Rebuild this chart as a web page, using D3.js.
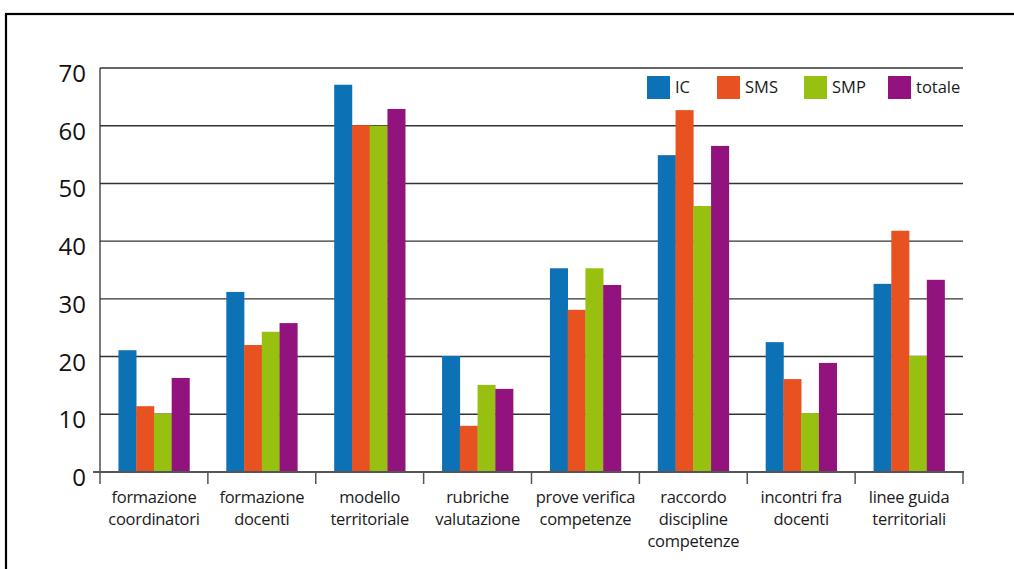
<!DOCTYPE html>
<html><head><meta charset="utf-8">
<script src="https://cdn.jsdelivr.net/npm/d3@7"></script>
<style>body{margin:0;background:#fff}svg{display:block;font-family:"Open Sans",sans-serif}</style>
</head><body>
<svg id="c" width="1014" height="569"></svg>
<script>
const categories = [["formazione","coordinatori"],["formazione","docenti"],["modello","territoriale"],["rubriche","valutazione"],["prove verifica","competenze"],["raccordo","discipline","competenze"],["incontri fra","docenti"],["linee guida","territoriali"]];
const seriesNames = ["IC","SMS","SMP","totale"];
const IC = [21.1,31.2,67.1,20.1,35.3,54.9,22.5,32.6];
const SMS = [11.4,22.0,60.1,8.0,28.1,62.7,16.1,41.8];
const SMP = [10.1,24.3,60.0,15.1,35.3,46.1,10.2,20.1];
const totale = [16.3,25.8,62.9,14.4,32.4,56.5,18.9,33.3];
const yTicks = [0,10,20,30,40,50,60,70];
const colors = ["#0c72b5","#e85120","#98c010","#93137e"];
const series = [IC,SMS,SMP,totale];

const svg = d3.select("#c");
// frame
svg.append("rect").attr("x",6).attr("y",14).attr("width",1020).attr("height",600).attr("fill","none").attr("stroke","#000").attr("stroke-width",2.2);

const x0 = 100, x1 = 963, yb = 472, yt = 68;
const x = d3.scaleBand().domain(d3.range(categories.length)).range([x0,x1]).paddingInner(0).paddingOuter(0);
const y = d3.scaleLinear().domain([0,70]).range([yb,yt]);
const xs = d3.scaleBand().domain(d3.range(4)).range([0,71]);

// gridlines
svg.append("g").selectAll("line").data(yTicks.filter(d=>d>0)).join("line")
  .attr("x1",x0).attr("x2",x1).attr("y1",d=>y(d)).attr("y2",d=>y(d))
  .attr("stroke","#333").attr("stroke-width",1.4);

// bars
const g = svg.append("g");
categories.forEach((c,i)=>{
  const off = x(i) + (x.bandwidth()-71)/2;
  series.forEach((s,j)=>{
    g.append("rect").attr("x",off+xs(j)).attr("width",xs.bandwidth()+0.3)
      .attr("y",y(s[i])).attr("height",yb-y(s[i])).attr("fill",colors[j]);
  });
});

// y axis line
svg.append("line").attr("x1",x0).attr("x2",x0).attr("y1",yt).attr("y2",yb).attr("stroke","#222").attr("stroke-width",1.2);
// x axis
svg.append("line").attr("x1",93).attr("x2",x1+1).attr("y1",yb).attr("y2",yb).attr("stroke","#555").attr("stroke-width",2);
const bounds = d3.range(categories.length+1).map(i=> i<categories.length ? x(i) : x1);
svg.append("g").selectAll("line").data(bounds).join("line")
  .attr("x1",d=>d).attr("x2",d=>d).attr("y1",yb).attr("y2",yb+12).attr("stroke","#555").attr("stroke-width",1.5);

// y labels
svg.append("g").selectAll("text").data(yTicks).join("text")
  .attr("x",86).attr("y",d=>y(d)+14).attr("text-anchor","end")
  .attr("font-size",24).attr("fill","#111").text(d=>d);

// x labels
categories.forEach((c,i)=>{
  const t = svg.append("text").attr("text-anchor","middle").attr("font-size",16.5).attr("fill","#1a1a1a")
    .attr("letter-spacing",-0.3);
  c.forEach((line,k)=>{
    t.append("tspan").attr("x",x(i)+x.bandwidth()/2).attr("y",503+k*22).text(line);
  });
});

// legend
const legX = [647,717,804,888];
seriesNames.forEach((n,j)=>{
  svg.append("rect").attr("x",legX[j]).attr("y",76).attr("width",23).attr("height",23).attr("fill",colors[j]);
  svg.append("text").attr("x",legX[j]+28).attr("y",93).attr("font-size",16.5).attr("fill","#1a1a1a").text(n);
});
</script>
</body></html>
